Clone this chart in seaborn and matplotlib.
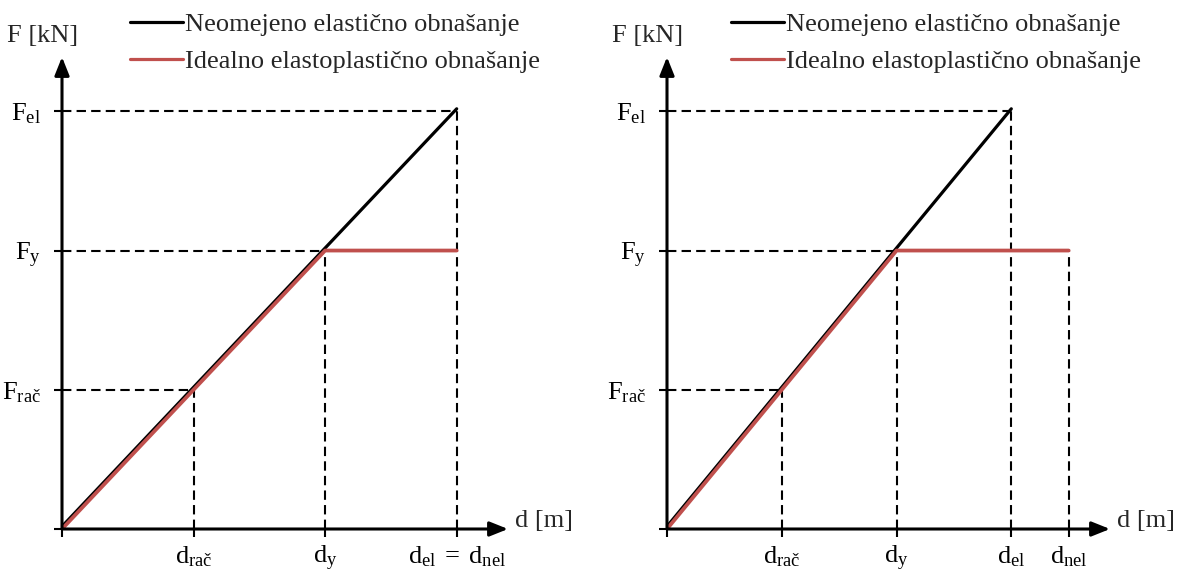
import matplotlib
matplotlib.use("Agg")
import matplotlib.pyplot as plt
import matplotlib.transforms as mtransforms
import pandas as pd
import seaborn as sns

# Characteristic force levels (shared by both panels)
F_rac, F_y, F_el = 1.0, 2.0, 3.0
force_ticks = [0.0, F_rac, F_y, F_el]
force_labels = ["", r"$\mathrm{F}_{\mathrm{rač}}$", r"$\mathrm{F}_{\mathrm{y}}$", r"$\mathrm{F}_{\mathrm{el}}$"]

# Left panel: the elastic and elastoplastic systems reach the same displacement
left_d_rac, left_d_y, left_d_el, left_d_nel = 1.0, 2.0, 3.0, 3.0
left_xtick_labels = ["", r"$\mathrm{d}_{\mathrm{rač}}$", r"$\mathrm{d}_{\mathrm{y}}$",
                     r"$\mathrm{d}_{\mathrm{el}}\;\mathrm{=}\;\mathrm{d}_{\mathrm{nel}}$"]

# Right panel: the elastoplastic system needs a larger displacement
right_d_rac, right_d_y, right_d_el, right_d_nel = 1.0, 2.0, 3.0, 3.5
right_xtick_labels = ["", r"$\mathrm{d}_{\mathrm{rač}}$", r"$\mathrm{d}_{\mathrm{y}}$",
                      r"$\mathrm{d}_{\mathrm{el}}$", r"$\mathrm{d}_{\mathrm{nel}}$"]

series_names = ["Neomejeno elastično obnašanje", "Idealno elastoplastično obnašanje"]
series_colors = ["#000000", "#C0504D"]

sns.set_theme(style="white")
plt.rcParams["font.family"] = ["Liberation Serif", "DejaVu Serif"]
plt.rcParams["mathtext.fontset"] = "custom"
plt.rcParams["mathtext.rm"] = "Liberation Serif"
plt.rcParams["mathtext.it"] = "Liberation Serif:italic"
plt.rcParams["mathtext.bf"] = "Liberation Serif:bold"

FS = 19
W, H = 1182, 572
fig = plt.figure(figsize=(W / 100, H / 100), dpi=100)
fig.patch.set_facecolor("white")

dash = (0, (4.5, 2.5))
guide_kw = dict(color="black", lw=1.5, linestyle=dash, zorder=1)


def draw_panel(rect, xmax, ymax, d_rac, d_y, d_el, d_nel, xtick_labels, legend_x):
    ax = fig.add_axes(rect)
    frame = pd.DataFrame({
        "d": [0.0, d_el, 0.0, d_y, d_nel],
        "F": [0.0, F_el, 0.0, F_y, F_y],
        "series": [series_names[0]] * 2 + [series_names[1]] * 3,
    })
    sns.lineplot(data=frame, x="d", y="F", hue="series", hue_order=series_names,
                 palette=series_colors, sort=False, estimator=None,
                 linewidth=2.3, ax=ax, zorder=3)
    leg = ax.get_legend()
    handles = list(leg.legend_handles)
    leg.remove()
    # black path sits a hair above the red one
    black = ax.lines[0]
    black.set_transform(mtransforms.offset_copy(ax.transData, fig=fig, x=0, y=2.5, units="dots"))
    ax.lines[1].set_linewidth(2.7)
    ax.lines[1].set_zorder(4)

    # dashed guide lines
    ax.hlines([F_rac, F_y, F_el], 0, [d_rac, d_y, d_el], **guide_kw)
    xs = sorted(set([d_rac, d_y, d_el, d_nel]))
    tops = {d_rac: F_rac, d_y: F_y, d_el: F_el}
    for x in xs:
        top = tops.get(x, F_y)
        ax.vlines(x, 0, top, **guide_kw)

    ax.set_xlim(0, xmax)
    ax.set_ylim(0, ymax)
    for s in ax.spines.values():
        s.set_visible(False)
    ax.set_xlabel("")
    ax.set_ylabel("")
    ax.set_xticks([0.0] + xs)
    ax.set_xticklabels(xtick_labels)
    ax.set_yticks(force_ticks)
    ax.set_yticklabels(force_labels)
    ax.tick_params(axis="both", bottom=True, left=True, direction="out",
                   length=6, width=1.5, color="black", labelsize=FS, labelcolor="black")
    ax.tick_params(axis="y", pad=9)
    ax.tick_params(axis="x", pad=5)

    arrow = dict(arrowstyle="-|>,head_length=0.55,head_width=0.22", lw=2.2,
                 color="black", mutation_scale=20, shrinkA=0, shrinkB=0)
    ax.annotate("", xy=(xmax, 0), xytext=(0, 0), arrowprops=arrow,
                annotation_clip=False, zorder=5)
    ax.annotate("", xy=(0, ymax), xytext=(0, 0), arrowprops=arrow,
                annotation_clip=False, zorder=5)

    ax.annotate("F [kN]", xy=(0, 1), xycoords="axes fraction", xytext=(-13.7, 15),
                textcoords="offset points", ha="center", va="center", fontsize=FS)
    ax.annotate("d [m]", xy=(1, 0), xycoords="axes fraction", xytext=(5, 1.5),
                textcoords="offset points", ha="left", va="baseline", fontsize=FS)

    fig.legend(handles, series_names, loc="center left",
               bbox_to_anchor=(legend_x / W, 1 - 43 / H), frameon=False,
               fontsize=FS, handlelength=2.0, handletextpad=0.1,
               labelspacing=0.5, borderpad=0, borderaxespad=0)
    return ax


draw_panel([62 / W, 43 / H, 446 / W, 472 / H], 3.39, 3.39,
           left_d_rac, left_d_y, left_d_el, left_d_nel, left_xtick_labels, 130)
draw_panel([667 / W, 43 / H, 443 / W, 472 / H], 3.86, 3.39,
           right_d_rac, right_d_y, right_d_el, right_d_nel, right_xtick_labels, 731)

fig.savefig("out.png", dpi=100, facecolor="white")
